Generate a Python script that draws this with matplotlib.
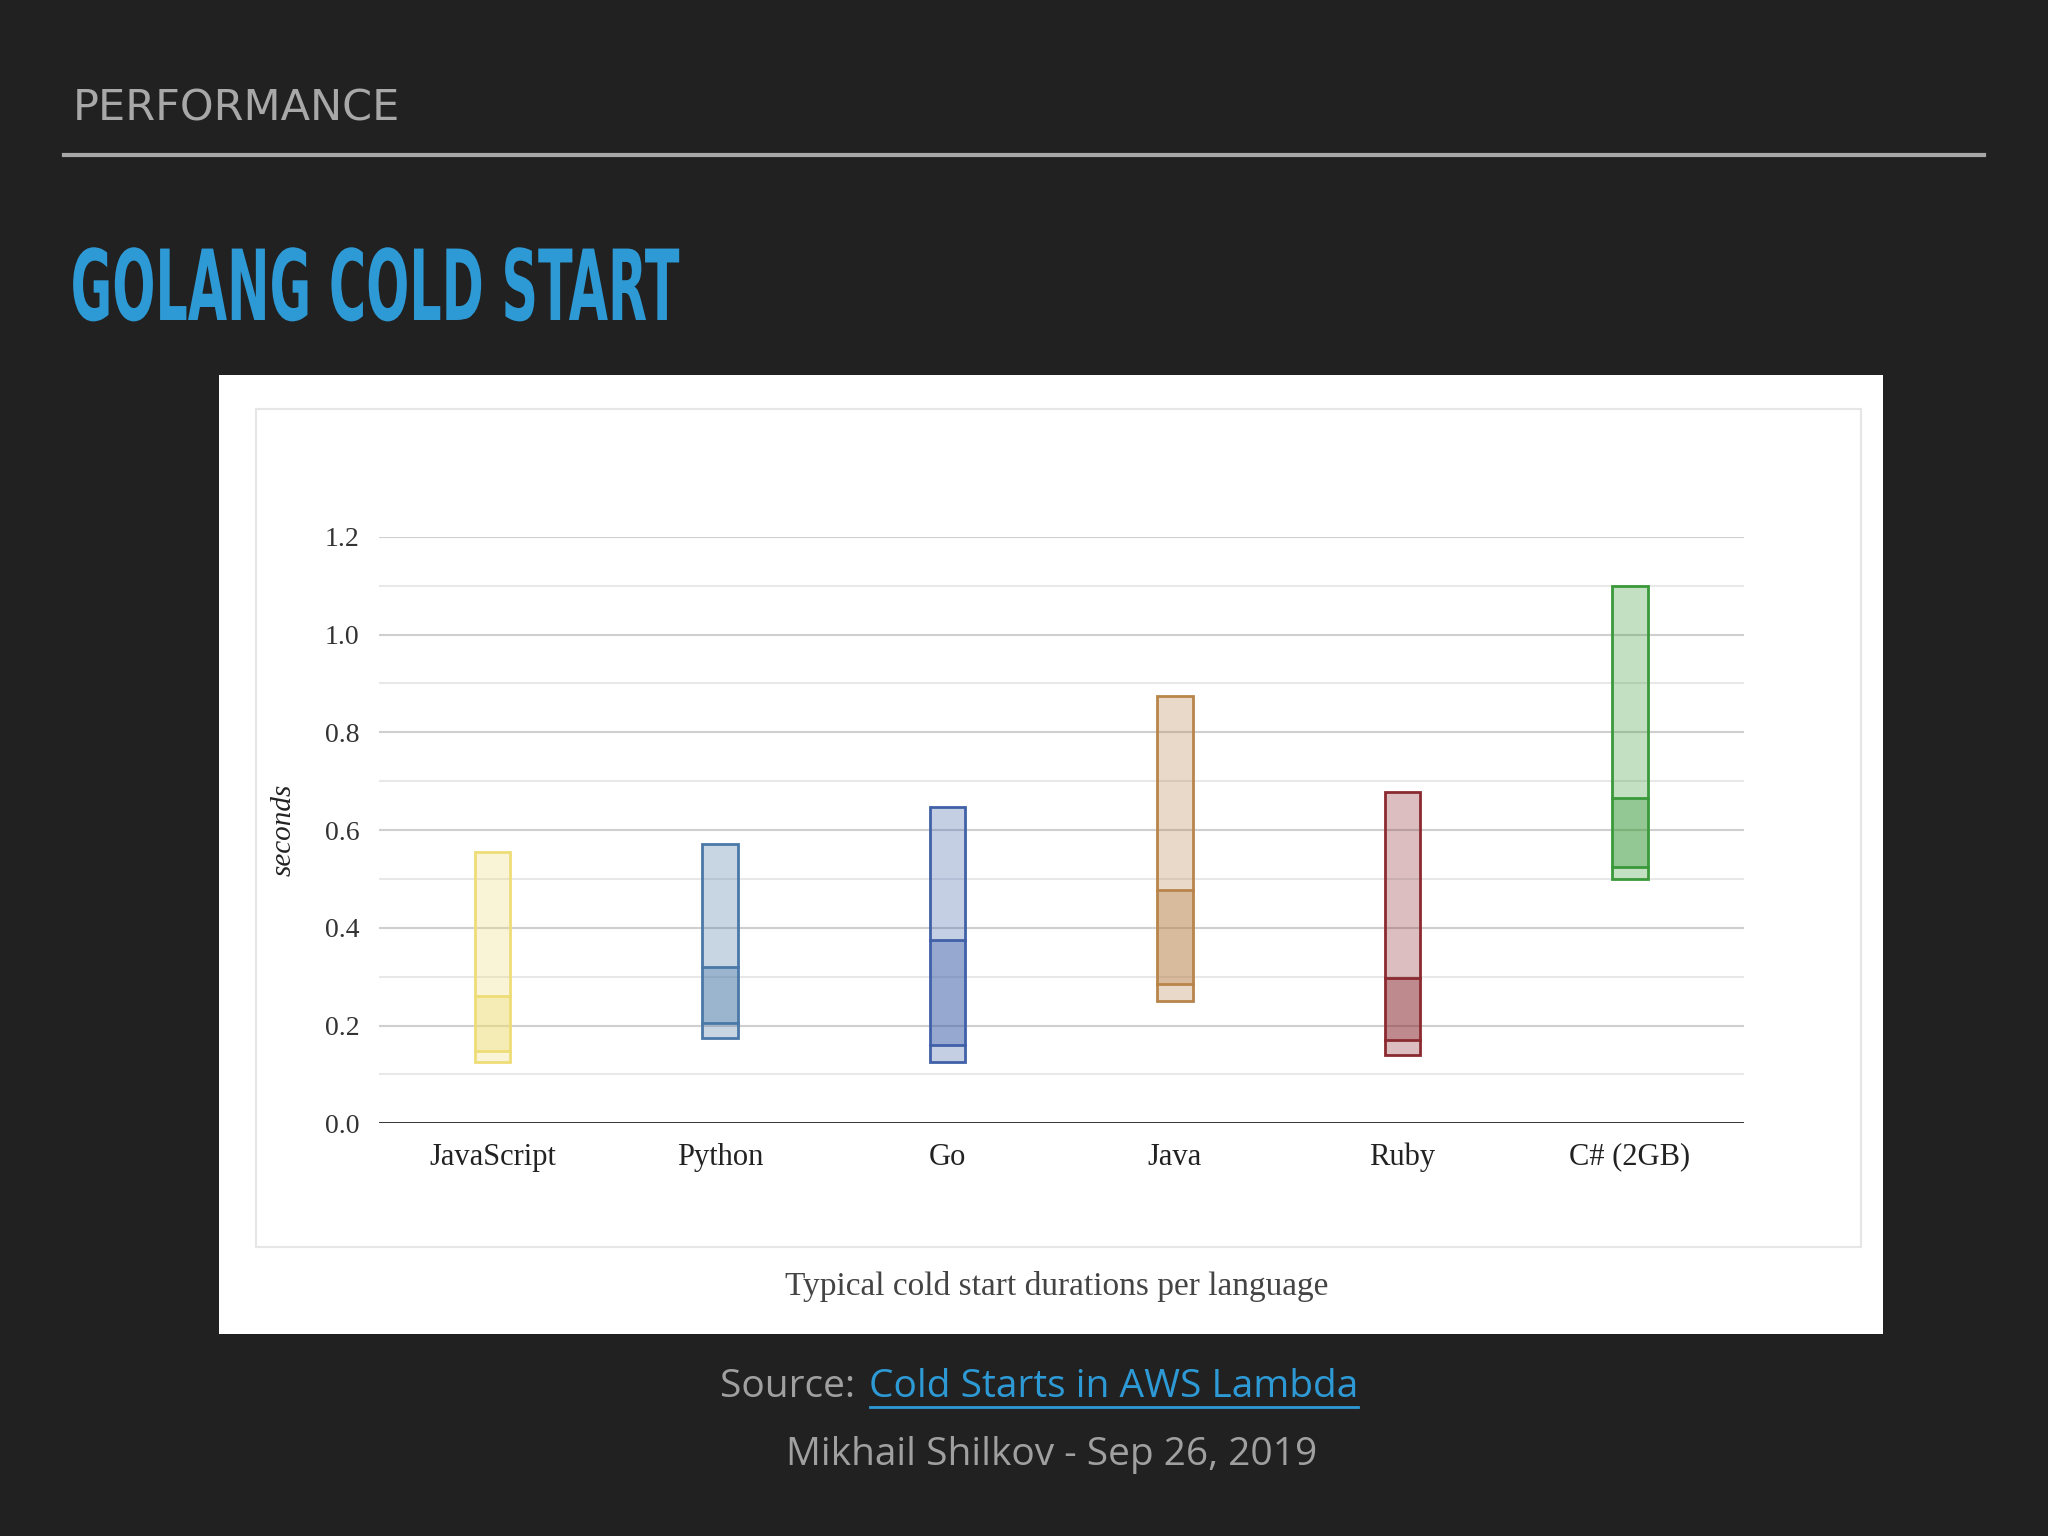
import matplotlib.pyplot as plt
from matplotlib.patches import Rectangle, PathPatch
from matplotlib.textpath import TextPath
from matplotlib.font_manager import FontProperties
from matplotlib.transforms import Affine2D, IdentityTransform

languages = ['JavaScript', 'Python', 'Go', 'Java', 'Ruby', 'C# (2GB)']
low = [0.125, 0.175, 0.125, 0.25, 0.14, 0.50]
q1 = [0.148, 0.205, 0.16, 0.285, 0.17, 0.525]
q3 = [0.26, 0.32, 0.375, 0.478, 0.298, 0.665]
high = [0.555, 0.572, 0.648, 0.875, 0.678, 1.10]
colors = ['#eedd77', '#4a78a8', '#4060a8', '#b8844a', '#8b2a30', '#3a9a3a']

W, H = 1568, 1176
fig = plt.figure(figsize=(20.48, 15.36), dpi=100)
fig.patch.set_facecolor('#212121')

def fx(x): return x / W
def fy(y): return 1 - y / H

fig.text(fx(56), fy(83), 'PERFORMANCE', color='#a8a8a8', fontsize=31,
         family='DejaVu Sans', va='center')
fig.add_artist(plt.Line2D([fx(49), fx(1519)], [fy(119), fy(119)], color='#a8a8a8', lw=3))

# condensed title: squeeze a text path horizontally
scale = 2048 / W
tp = TextPath((0, 0), 'GOLANG COLD START', size=98,
              prop=FontProperties(family='DejaVu Sans', weight='bold'))
ext = tp.get_extents()
sx = (464 * scale) / ext.width
tr = Affine2D().translate(-ext.x0, 0).scale(sx, 1).translate(56 * scale, (H - 245) * scale)
fig.add_artist(PathPatch(tr.transform_path(tp), transform=IdentityTransform(),
                         facecolor='#2d9ad6', edgecolor='none'))

# white panel
fig.add_artist(Rectangle((fx(168), fy(1021)), fx(1442 - 168), (1021 - 287) / H,
                         transform=fig.transFigure, facecolor='white', zorder=0))
fig.add_artist(Rectangle((fx(196), fy(955)), fx(1425 - 196), (955 - 313) / H,
                         transform=fig.transFigure, facecolor='none', edgecolor='#e6e6e6', lw=1.5, zorder=1))

ax = fig.add_axes([fx(290), fy(860), fx(1335 - 290), (860 - 411) / H])
ax.set_facecolor('white')
ax.set_xlim(-0.5, 5.5)
ax.set_ylim(0, 1.2)
for k in range(1, 13):
    ax.axhline(k / 10, color='#cfcfcf' if k % 2 == 0 else '#e8e8e8', lw=1.5, zorder=0)
ax.axhline(0, color='#222222', lw=2, zorder=1)

bw = 0.155
for i, c in enumerate(colors):
    ax.add_patch(Rectangle((i - bw / 2, low[i]), bw, high[i] - low[i],
                           facecolor=c, alpha=0.3, edgecolor='none', zorder=2))
    ax.add_patch(Rectangle((i - bw / 2, q1[i]), bw, q3[i] - q1[i],
                           facecolor=c, alpha=0.35, edgecolor='none', zorder=3))
    ax.add_patch(Rectangle((i - bw / 2, low[i]), bw, high[i] - low[i],
                           facecolor='none', edgecolor=c, lw=2, zorder=4))
    for v in (q1[i], q3[i]):
        ax.plot([i - bw / 2, i + bw / 2], [v, v], color=c, lw=2, zorder=4)

ax.set_xticks(range(len(languages)))
ax.set_xticklabels(languages, family='Liberation Serif', fontsize=22, color='#222222')
ax.set_yticks([0, 0.2, 0.4, 0.6, 0.8, 1.0, 1.2])
ax.set_yticklabels(['0.0', '0.2', '0.4', '0.6', '0.8', '1.0', '1.2'],
                   family='Liberation Serif', fontsize=20, color='#333333')
ax.tick_params(length=0, pad=14)
for s in ax.spines.values():
    s.set_visible(False)
ax.set_ylabel('seconds', family='Liberation Serif', style='italic', fontsize=21,
              color='#222222', labelpad=20)

fig.text(fx(809), fy(985), 'Typical cold start durations per language',
         family='Liberation Serif', fontsize=24, color='#444444', ha='center', va='center')

fig.text(fx(551), fy(1062), 'Source: ', color='#a0a0a0', fontsize=28,
         family='Open Sans', va='center')
fig.text(fx(665), fy(1062), 'Cold Starts in AWS Lambda', color='#2d9ad6', fontsize=28,
         family='Open Sans', va='center')
fig.add_artist(plt.Line2D([fx(666), fx(1040)], [fy(1077), fy(1077)], color='#2d9ad6', lw=2))
fig.text(fx(805), fy(1114), 'Mikhail Shilkov - Sep 26, 2019', color='#a0a0a0', fontsize=28,
         family='Open Sans', ha='center', va='center')

fig.savefig('out.png', dpi=100, facecolor=fig.get_facecolor())
